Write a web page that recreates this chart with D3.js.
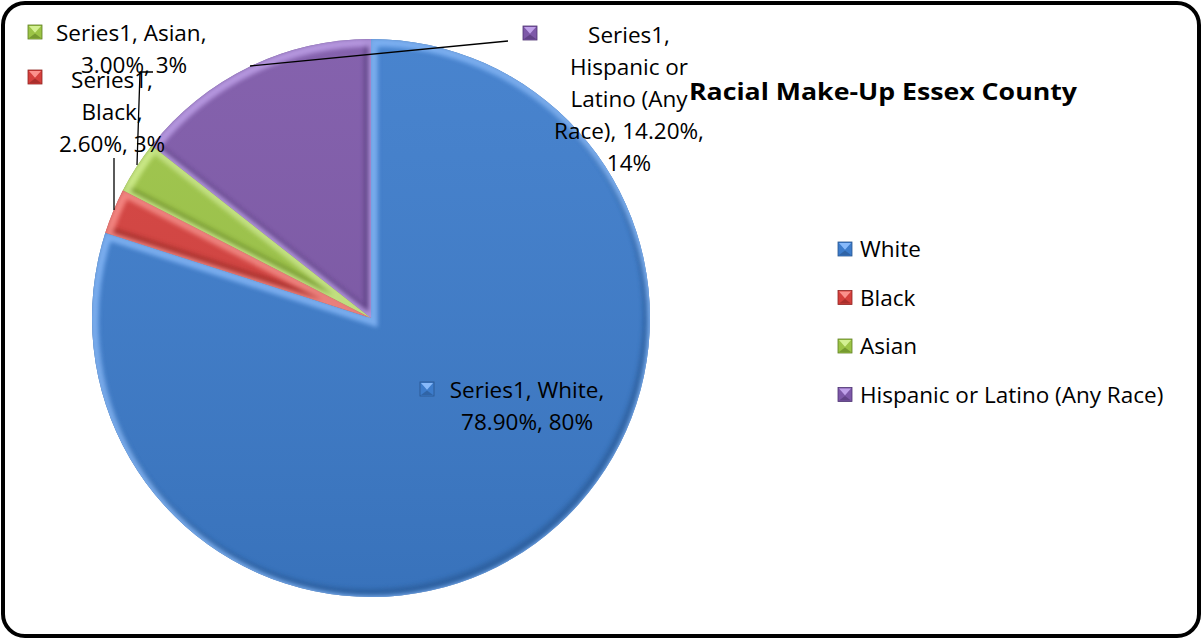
<!DOCTYPE html>
<html>
<head>
<meta charset="utf-8">
<script src="https://cdn.jsdelivr.net/npm/d3@7"></script>
<style>
  html, body { margin: 0; padding: 0; background: #fff; }
  svg { display: block; }
  text { fill: #000; }
</style>
</head>
<body>
<svg id="chart" width="1202" height="639"></svg>
<script>
// Racial composition of Essex County (percent of population)
const categories = ["White", "Black", "Asian", "Hispanic or Latino (Any Race)"];
const values = [78.9, 2.6, 3.0, 14.2];
const valueLabels = ["78.90%", "2.60%", "3.00%", "14.20%"];
const seriesName = "Series1";
const colors = ["#3D7CCB", "#D5403D", "#9CC446", "#7D58A8"];
const lightColors = ["#8FC0FF", "#FF9A95", "#D9F59A", "#C6A9F0"];
const darkColors = ["#28558E", "#8E2522", "#5E7E22", "#4E3472"];

const FONT = "'Open Sans', Lato, 'Liberation Sans', sans-serif";
const FS = 22.5;

const svg = d3.select("#chart");
const W = 1202, H = 639;

// outer frame
svg.append("rect")
  .attr("x", 3).attr("y", 3).attr("width", W - 6).attr("height", H - 6)
  .attr("rx", 22).attr("ry", 22)
  .attr("fill", "#fff").attr("stroke", "#000").attr("stroke-width", 4);

const defs = svg.append("defs");
defs.append("filter").attr("id", "soft")
  .attr("x", "-10%").attr("y", "-10%").attr("width", "120%").attr("height", "120%")
  .append("feGaussianBlur").attr("stdDeviation", 2.2);

const cx = 371, cy = 318, R = 279;
const pie = d3.pie().sort(null).value(d => d)(values);
const arc = d3.arc().innerRadius(0).outerRadius(R);
const total = d3.sum(values);
const pct = v => Math.round(v / total * 100) + "%";

const g = svg.append("g").attr("transform", `translate(${cx},${cy})`);

pie.forEach((p, i) => {
  const d = arc(p);
  const cid = "clip" + i;
  defs.append("clipPath").attr("id", cid).append("path").attr("d", d)
    .attr("transform", `translate(${cx},${cy})`);
  g.append("path").attr("d", d).attr("fill", colors[i]);
  const bev = svg.append("g").attr("clip-path", `url(#${cid})`)
    .append("g").attr("transform", `translate(${cx},${cy})`);
  // shaded outer rim
  bev.append("path").attr("d", d).attr("fill", "none")
    .attr("stroke", darkColors[i]).attr("stroke-width", 10).attr("opacity", 0.55)
    .attr("transform", "translate(-2,-3)")
    .attr("filter", "url(#soft)");
  // highlighted bevel edge
  bev.append("path").attr("d", d).attr("fill", "none")
    .attr("stroke", lightColors[i]).attr("stroke-width", 9).attr("opacity", 0.75)
    .attr("transform", "translate(2,3)")
    .attr("filter", "url(#soft)");
});

// subtle vertical shading across the pie
const lg = defs.append("linearGradient").attr("id", "shade")
  .attr("x1", 0).attr("y1", 0).attr("x2", 0).attr("y2", 1);
lg.append("stop").attr("offset", "0%").attr("stop-color", "#fff").attr("stop-opacity", 0.06);
lg.append("stop").attr("offset", "100%").attr("stop-color", "#000").attr("stop-opacity", 0.08);
g.append("circle").attr("r", R).attr("fill", "url(#shade)");

// bevelled legend key
function marker(sel, x, y, i, s = 14) {
  const m = sel.append("g").attr("transform", `translate(${x},${y})`);
  m.append("rect").attr("width", s).attr("height", s).attr("fill", colors[i])
    .attr("stroke", darkColors[i]).attr("stroke-width", 0.8);
  m.append("path").attr("d", `M1,1 L${s - 1},1 L${s / 2},${s * 0.55} Z`)
    .attr("fill", lightColors[i]).attr("opacity", 0.9);
  m.append("path").attr("d", `M1,${s - 1} L${s - 1},${s - 1} L${s / 2},${s * 0.6} Z`)
    .attr("fill", darkColors[i]).attr("opacity", 0.6);
}

function multiline(x, y, lines, lh = 32, anchor = "middle") {
  const t = svg.append("text").style("font-family", FONT).attr("font-size", FS).attr("text-anchor", anchor);
  lines.forEach((l, k) => t.append("tspan").attr("x", x).attr("y", y + k * lh).text(l));
  return t;
}

// leader lines
const leaders = [
  [[250, 66], [508, 41]],
  [[137, 165], [140, 72], [153, 72]],
  [[114, 158], [114, 210]]
];
leaders.forEach(pts => svg.append("path").attr("d", d3.line()(pts))
  .attr("fill", "none").attr("stroke", "#000").attr("stroke-width", 1.3));

// data labels
marker(svg, 420, 382, 0);
multiline(527, 398, [`${seriesName}, ${categories[0]},`, `${valueLabels[0]}, ${pct(values[0])}`]);

marker(svg, 523, 26, 3);
multiline(629, 43, [`${seriesName},`, "Hispanic or", "Latino (Any", `Race), ${valueLabels[3]},`, pct(values[3])]);

marker(svg, 28, 25, 2);
svg.append("text").style("font-family", FONT).attr("font-size", FS)
  .attr("x", 56).attr("y", 41).text(`${seriesName}, ${categories[2]},`);
multiline(134, 73, [`${valueLabels[2]}, ${pct(values[2])}`]);

marker(svg, 28, 70, 1);
multiline(112, 88, [`${seriesName},`, `${categories[1]},`, `${valueLabels[1]}, ${pct(values[1])}`]);

// title
svg.append("text").attr("x", 883).attr("y", 100).attr("text-anchor", "middle")
  .style("font-family", FONT).attr("font-size", 24).attr("font-weight", "bold")
  .attr("textLength", 388).attr("lengthAdjust", "spacingAndGlyphs")
  .text("Racial Make-Up Essex County");

// legend
const legend = svg.append("g");
categories.forEach((c, i) => {
  const y = 249 + i * 48.5;
  marker(legend, 838, y - 7, i);
  legend.append("text").style("font-family", FONT).attr("x", 860).attr("y", y + 8)
    .attr("font-size", FS).text(c);
});
</script>
</body>
</html>
